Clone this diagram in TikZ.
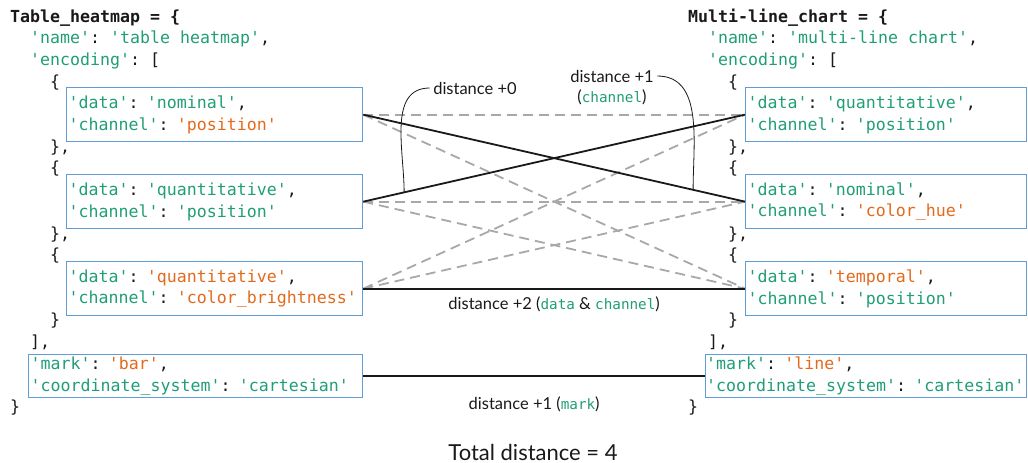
\documentclass[tikz,border=0pt]{standalone}
\usepackage{fontspec}
\usepackage{tikz}
\setmainfont{Lato}
\setmonofont{DejaVu Sans Mono}

\definecolor{codegreen}{RGB}{32,158,116}
\definecolor{codeorange}{RGB}{226,106,28}
\definecolor{boxblue}{RGB}{96,156,214}
\definecolor{linegray}{RGB}{168,168,168}
\definecolor{ink}{RGB}{25,25,25}

\newcommand\codefont{\ttfamily\fontsize{16.6}{21.7}\selectfont}
\newcommand\labelfont{\fontsize{16.5}{20}\selectfont}
\newcommand\ky[1]{\textcolor{codegreen}{#1}}
\newcommand\vl[1]{\textcolor{codeorange}{#1}}
\newcommand\cdl[1]{\textcolor{codegreen}{\ttfamily\fontsize{14.3}{16}\selectfont #1}}

\begin{document}
\begin{tikzpicture}[x=1pt,y=-1pt,
        code/.style={font=\codefont,anchor=base west,inner sep=0pt,text=ink},
        encbox/.style={draw=boxblue,line width=1.3pt,anchor=north west,align=left,
            font=\codefont,inner xsep=2pt,inner ysep=0pt,minimum height=54pt,text=ink},
        propbox/.style={encbox,minimum height=43pt},
        pick/.style={line width=1.8pt,draw=ink},
        other/.style={line width=1.8pt,draw=linegray,dash pattern=on 10pt off 6pt},
        lead/.style={line width=0.8pt,draw=ink},
        lbl/.style={font=\labelfont,text=ink}]
        \useasboundingbox (0,0) rectangle (1028,463);

        % table heatmap
        \node[code] (lhead) at (10,22) {\textbf{Table\_heatmap = \{}};
        \node[code] (lname) at (30,43.7) {\ky{'name'}: \ky{'table heatmap'},};
        \node[code] (lenc) at (30,65.4) {\ky{'encoding'}: [};
        \node[code] (lo1) at (50,87.1) {\{};
        \node[encbox,text width=292pt] (l1) at (66,87)
            {\ky{'data'}: \ky{'nominal'},\\ \ky{'channel'}: \vl{'position'}};
        \node[code] (lc1) at (50,152.2) {\},};
        \node[code] (lo2) at (50,173.9) {\{};
        \node[encbox,text width=292pt] (l2) at (66,174)
            {\ky{'data'}: \ky{'quantitative'},\\ \ky{'channel'}: \ky{'position'}};
        \node[code] (lc2) at (50,239) {\},};
        \node[code] (lo3) at (50,260.7) {\{};
        \node[encbox,text width=292pt] (l3) at (66,261)
            {\ky{'data'}: \vl{'quantitative'},\\ \ky{'channel'}: \vl{'color\_brightness'}};
        \node[code] (lc3) at (50,325.8) {\}};
        \node[code] (lend) at (30,347.5) {],};
        \node[propbox,text width=330pt] (lm) at (28,354)
            {\ky{'mark'}: \vl{'bar'},\\ \ky{'coordinate\_system'}: \ky{'cartesian'}};
        \node[code] (lclose) at (10,412.6) {\}};

        % multi-line chart
        \node[code] (rhead) at (688,22) {\textbf{Multi-line\_chart = \{}};
        \node[code] (rname) at (708,43.7) {\ky{'name'}: \ky{'multi-line chart'},};
        \node[code] (renc) at (708,65.4) {\ky{'encoding'}: [};
        \node[code] (ro1) at (728,87.1) {\{};
        \node[encbox,text width=277pt] (r1) at (745,87)
            {\ky{'data'}: \ky{'quantitative'},\\ \ky{'channel'}: \ky{'position'}};
        \node[code] (rc1) at (728,152.2) {\},};
        \node[code] (ro2) at (728,173.9) {\{};
        \node[encbox,text width=277pt] (r2) at (745,174)
            {\ky{'data'}: \ky{'nominal'},\\ \ky{'channel'}: \vl{'color\_hue'}};
        \node[code] (rc2) at (728,239) {\},};
        \node[code] (ro3) at (728,260.7) {\{};
        \node[encbox,text width=277pt] (r3) at (745,261)
            {\ky{'data'}: \vl{'temporal'},\\ \ky{'channel'}: \ky{'position'}};
        \node[code] (rc3) at (728,325.8) {\}};
        \node[code] (rend) at (708,347.5) {],};
        \node[propbox,text width=320pt,inner xsep=0.5pt] (rm) at (705,354)
            {\ky{'mark'}: \vl{'line'},\\ \ky{'coordinate\_system'}: \ky{'cartesian'}};
        \node[code] (rclose) at (688,412.6) {\}};

        % candidate pairs
        \draw[other] (l1.east) -- (r1.west);
        \draw[other] (l1.east) -- (r3.west);
        \draw[other] (l2.east) -- (r2.west);
        \draw[other] (l2.east) -- (r3.west);
        \draw[other] (l3.east) -- (r1.west);
        \draw[other] (l3.east) -- (r2.west);

        % chosen pairs
        \draw[pick] (l1.east) -- coordinate[pos=0.864] (p1) (r2.west);
        \draw[pick] (l2.east) -- coordinate[pos=0.107] (p0) (r1.west);
        \draw[pick] (l3.east) -- node[lbl,below=4pt] (d2)
            {distance +2 (\cdl{data} \& \cdl{channel})} (r3.west);
        \draw[pick] (lm.east) -- node[lbl,below=16pt] (d3)
            {distance +1 (\cdl{mark})} (rm.west);

        \node[lbl] (d0) at (475,88) {distance +0};
        \node[lbl] (d1) at (612,76) {distance +1};
        \node[lbl] (d1c) at (612,97) {(\cdl{channel})};
        \draw[lead] (d0.west) to[out=180,in=90] (p0);
        \draw[lead] (d1.east) to[out=0,in=90] (p1);

        \node[lbl,font=\fontsize{22}{25}\selectfont] (total) at (533,452) {Total distance = 4};
\end{tikzpicture}
\end{document}
